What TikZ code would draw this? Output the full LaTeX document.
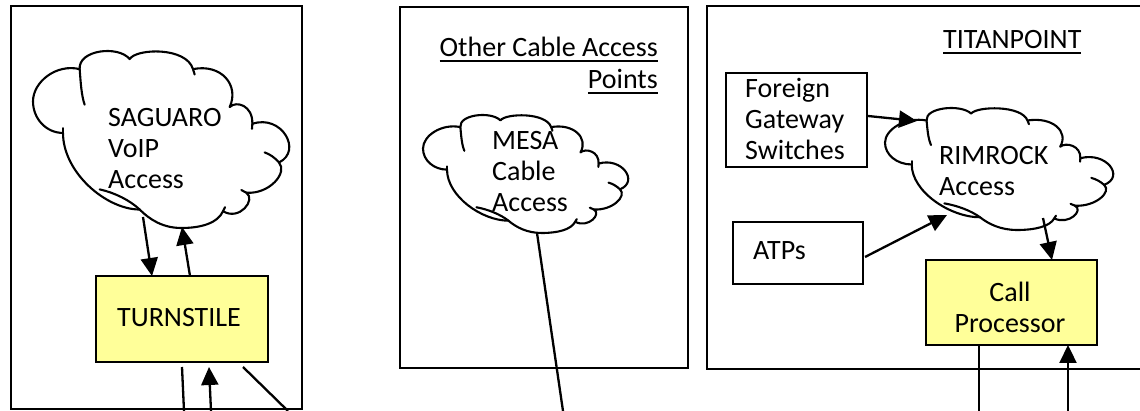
\documentclass[tikz,border=0pt]{standalone}
\usepackage{fontspec}
\setmainfont{Carlito}
\usetikzlibrary{arrows.meta}
\definecolor{boxyellow}{HTML}{FFFF99}

% cloud: name, x, y, w, h (frame in picture units)
\newcommand\refcloud[5]{%
  \pgfmathsetmacro\ocw{(#4)/768}\pgfmathsetmacro\och{(#5)/527}%
  \begin{scope}[shift={(#2,#3)}, x=\ocw pt, y=-\och pt]
  \begin{scope}[shift={(-10,-18)}]
    \draw[cloudline, fill=white] (150,72)
      .. controls (145,15) and (265,0) .. (300,42)
      .. controls (320,10) and (470,5) .. (490,72)
      .. controls (575,55) and (630,120) .. (600,185)
      .. controls (620,165) and (670,180) .. (668,235)
      .. controls (755,205) and (820,315) .. (748,350)
      .. controls (775,380) and (720,445) .. (650,440)
      .. controls (680,460) and (630,525) .. (580,495)
      .. controls (565,530) and (515,545) .. (455,545)
      .. controls (400,545) and (360,520) .. (330,490)
      .. controls (230,490) and (100,380) .. (100,262)
      .. controls (50,262) and (10,220) .. (10,168)
      .. controls (10,110) and (80,55) .. (150,72) -- cycle;
    \draw[cloudline] (150,72) .. controls (153,110) and (155,150) .. (165,178);
    \draw[cloudline] (490,72) -- (495,88);
    \draw[cloudline] (668,235) -- (667,250);
    \draw[cloudline] (748,350) .. controls (735,335) and (720,325) .. (705,320);
    \draw[cloudline] (650,440) -- (635,432);
    \draw[cloudline] (580,495) -- (586,483);
    \draw[cloudline] (330,490) .. controls (300,462) and (255,440) .. (210,430);
    \draw[cloudline] (100,262) -- (100,248);
    \coordinate (#1) at (394,281);
  \end{scope}
  \end{scope}}

\newcommand\Lft[1]{\vtop{\halign{##\hfil\cr#1\crcr}}}
\newcommand\Rgt[1]{\vtop{\halign{\hfil##\cr#1\crcr}}}
\newcommand\Ctr[1]{\vtop{\halign{\hfil##\hfil\cr#1\crcr}}}
\newcommand\myul[1]{\vtop{\hbox{#1}\kern2.5pt\hrule height 2pt}}

\begin{document}
\begin{tikzpicture}[x=1pt,y=-1pt,
  frame/.style={draw, line width=2.4pt},
  cloudline/.style={line width=2.1pt, line join=round, line cap=round},
  wbox/.style={draw, line width=2.4pt, fill=white, inner sep=0pt},
  ybox/.style={draw, line width=2.4pt, fill=boxyellow, inner sep=0pt},
  txt/.style={inner sep=0pt, font=\fontsize{28}{31}\selectfont},
  conn/.style={line width=2.3pt},
  arr/.style={line width=2.3pt, -{Triangle[length=18pt,width=17pt]}}]
\useasboundingbox (0,0) rectangle (1140,411);

% outer frames
\draw[frame] (11,6) rectangle (302,409);
\draw[frame] (400,7) rectangle (688,368);
\draw[frame] (707,6) rectangle (1160,369);

% ---------- left panel ----------
\refcloud{saguaro}{33}{51}{256}{177}
\node[txt, anchor=base west] (saguaro-t) at (108,127) {\Lft{SAGUARO\cr VoIP\cr Access}};
\node[ybox, minimum width=172pt, minimum height=86pt] (turnstile) at (182,319) {};
\node[txt, anchor=base] (turnstile-t) at (179,327) {TURNSTILE};
\coordinate (sag-a) at (143,217);
\coordinate (sag-b) at (182,227);
\coordinate (turn-a) at (152,276);
\coordinate (turn-b) at (190,276);
\draw[arr] (sag-a) -- (turn-a);
\draw[arr] (turn-b) -- (sag-b);
\coordinate (l1s) at (182,367); \coordinate (l1e) at (184,411);
\coordinate (l2s) at (211,411); \coordinate (l2e) at (209,367);
\coordinate (l3s) at (243,367); \coordinate (l3e) at (288,411);
\draw[conn] (l1s) -- (l1e);
\draw[arr] (l2s) -- (l2e);
\draw[conn] (l3s) -- (l3e);

% ---------- middle panel ----------
\node[txt, anchor=base east, font=\fontsize{28}{32}\selectfont] (other-t) at (658,57)
  {\Rgt{\myul{Other Cable Access}\cr\myul{Points}}};
\refcloud{mesa}{423}{115}{205}{118}
\node[txt, anchor=base west] (mesa-t) at (492,150) {\Lft{MESA\cr Cable\cr Access}};
\coordinate (mesa-a) at (537,233);
\coordinate (mesa-e) at (563,411);
\draw[conn] (mesa-a) -- (mesa-e);

% ---------- right panel ----------
\node[txt, anchor=base west] (titan-t) at (943,49) {\myul{TITANPOINT}};
\node[wbox, minimum width=141pt, minimum height=94pt] (foreign) at (796.5,120) {};
\node[txt, anchor=base west] (foreign-t) at (745,98) {\Lft{Foreign\cr Gateway\cr Switches}};
\node[wbox, minimum width=130pt, minimum height=62pt] (atps) at (798,253) {};
\node[txt, anchor=base west] (atps-t) at (753,260) {ATPs};
\refcloud{rimrock}{885}{108}{228}{122}
\node[txt, anchor=base west] (rimrock-t) at (939,165) {\Lft{RIMROCK\cr Access}};
\node[ybox, minimum width=171pt, minimum height=85pt] (callp) at (1011.5,302.5) {};
\node[txt, anchor=base] (callp-t) at (1010,302) {\Ctr{Call\cr Processor}};

\coordinate (fg-a) at (868,116);
\coordinate (rim-a) at (917,121);
\coordinate (atp-a) at (865,257);
\coordinate (rim-b) at (947,215);
\coordinate (rim-c) at (1043,218);
\coordinate (cp-a) at (1052,260);
\draw[arr] (fg-a) -- (rim-a);
\draw[arr] (atp-a) -- (rim-b);
\draw[arr] (rim-c) -- (cp-a);
\coordinate (cp-b) at (979,345); \coordinate (cp-be) at (979,411);
\coordinate (cp-c) at (1068,345); \coordinate (cp-cs) at (1068,411);
\draw[conn] (cp-b) -- (cp-be);
\draw[arr] (cp-cs) -- (cp-c);
\end{tikzpicture}
\end{document}
